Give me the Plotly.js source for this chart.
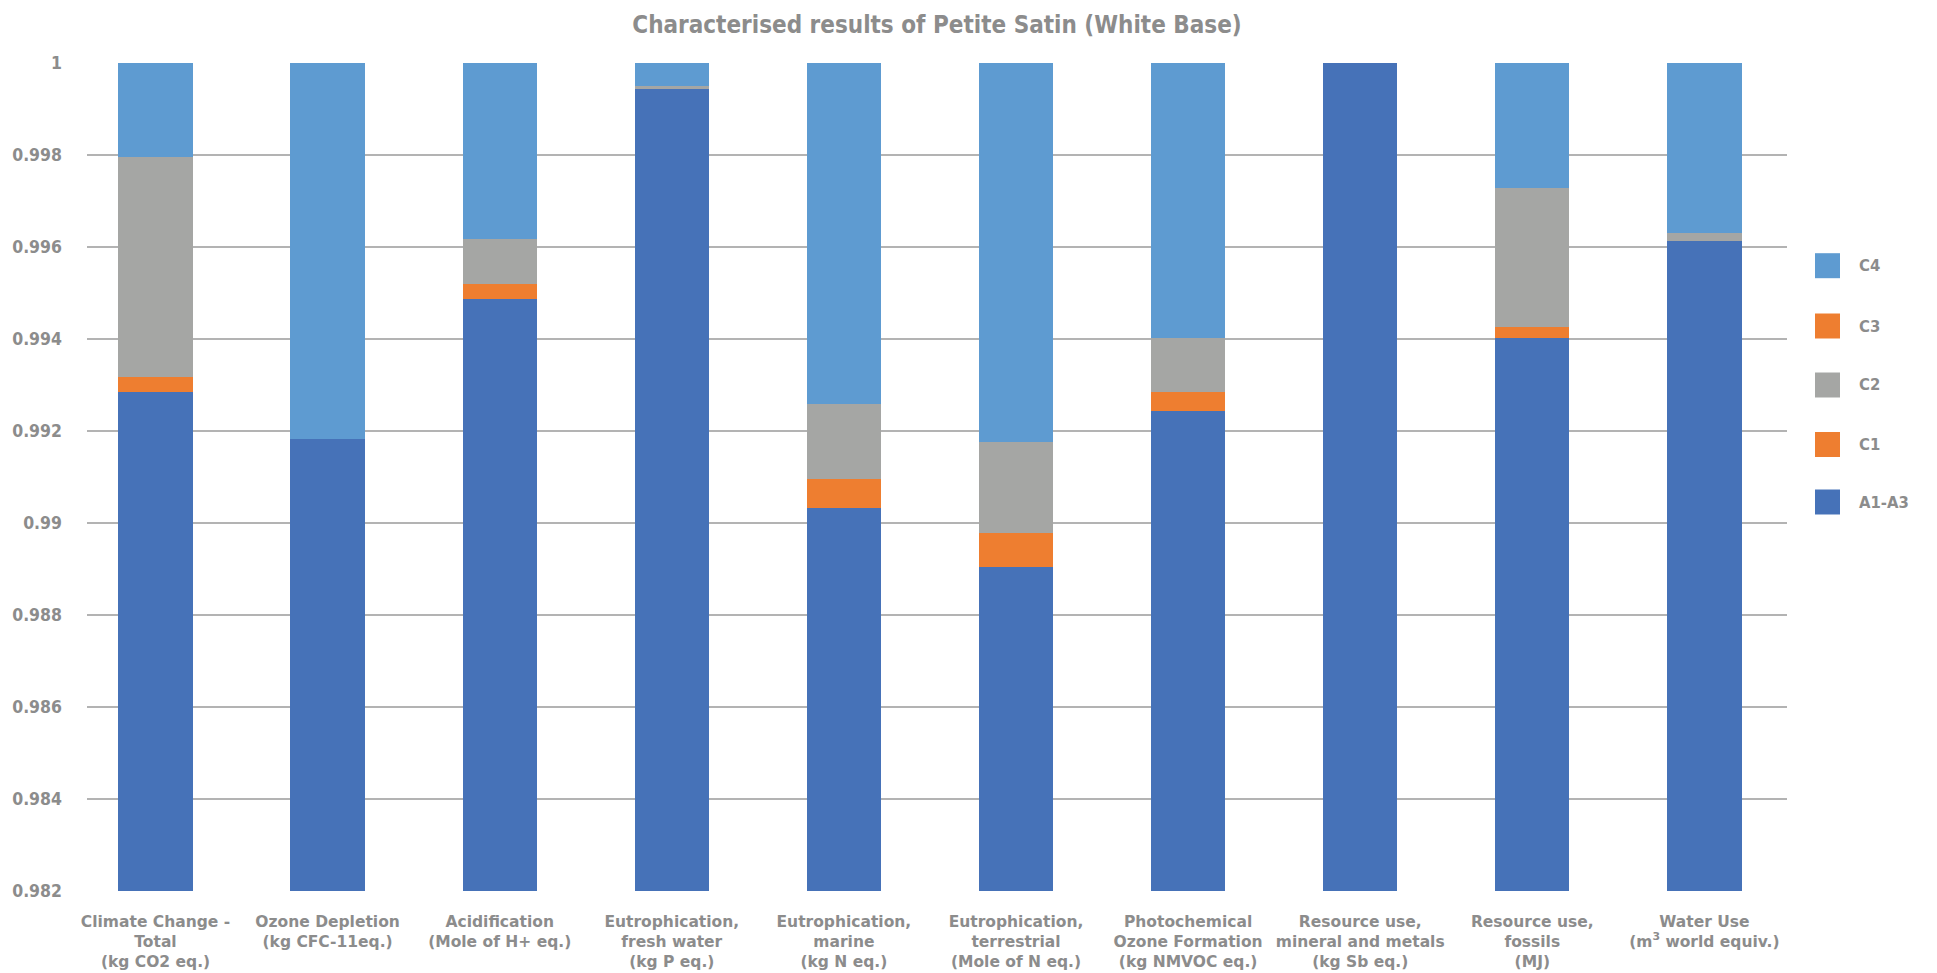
<!DOCTYPE html>
<html>
<head>
<meta charset="utf-8">
<script src="https://cdn.plot.ly/plotly-3.0.1.min.js"></script>
<style>html,body{margin:0;padding:0;background:#fff;}#chart{width:1937px;height:973px;}</style>
</head>
<body>
<div id="chart"></div>
<script>
// ---- data ----
const categories = [
  "Climate Change -<br>Total<br>(kg CO2 eq.)",
  "Ozone Depletion<br>(kg CFC-11eq.)",
  "Acidification<br>(Mole of H+ eq.)",
  "Eutrophication,<br>fresh water<br>(kg P eq.)",
  "Eutrophication,<br>marine<br>(kg N eq.)",
  "Eutrophication,<br>terrestrial<br>(Mole of N eq.)",
  "Photochemical<br>Ozone Formation<br>(kg NMVOC eq.)",
  "Resource use,<br>mineral and metals<br>(kg Sb eq.)",
  "Resource use,<br>fossils<br>(MJ)",
  "Water Use<br>(m<sup>3</sup> world equiv.)"
];
const seriesNames = ["A1-A3", "C1", "C2", "C3", "C4"];
const a1a3 = [0.99285, 0.99182, 0.99486, 0.99943, 0.99032, 0.98904, 0.99244, 1.00000, 0.99403, 0.99614];
const c1   = [0.00033, 0.00000, 0.00033, 0.00000, 0.00063, 0.00075, 0.00041, 0.00000, 0.00024, 0.00000];
const c2   = [0.00477, 0.00000, 0.00098, 0.00007, 0.00163, 0.00197, 0.00118, 0.00000, 0.00302, 0.00016];
const c3   = [0.00000, 0.00000, 0.00000, 0.00000, 0.00000, 0.00000, 0.00000, 0.00000, 0.00000, 0.00000];
const c4   = [0.00205, 0.00818, 0.00383, 0.00050, 0.00742, 0.00824, 0.00597, 0.00000, 0.00271, 0.00370];
const seriesValues = [a1a3, c1, c2, c3, c4];
const seriesColors = ["#4672B8", "#EE7E30", "#A5A6A4", "#EE7E30", "#5E9BD1"];

// ---- style ----
const FONT = "'DejaVu Sans Condensed', 'Liberation Sans Narrow', sans-serif";
const FONT_WIDE = "'DejaVu Sans', sans-serif";
const GREY = "#8c8c8c";
const W = 1937, H = 973;
const M = {l: 87, r: 150, t: 63, b: 82};

const xIdx = categories.map((_, i) => i);
const traces = seriesNames.map((name, k) => ({
  type: "bar",
  name: name,
  x: xIdx,
  y: seriesValues[k],
  marker: {color: seriesColors[k], line: {width: 0}},
  showlegend: false,
  hoverinfo: "skip"
}));

// custom legend (top to bottom: reversed series order)
const plotW = W - M.l - M.r, plotH = H - M.t - M.b;
const legendRows = [265.7, 326, 385, 444.5, 502];
const shapes = [], annotations = [];
const legendOrder = seriesNames.map((_, i) => seriesNames.length - 1 - i);
legendOrder.forEach((k, r) => {
  const cy = legendRows[r];
  const x0 = 1815, sz = 25;
  shapes.push({
    type: "rect", xref: "paper", yref: "paper", layer: "above",
    x0: (x0 - M.l) / plotW, x1: (x0 + sz - M.l) / plotW,
    y0: (H - M.b - (cy + sz / 2)) / plotH, y1: (H - M.b - (cy - sz / 2)) / plotH,
    fillcolor: seriesColors[k], line: {width: 0}
  });
  annotations.push({
    xref: "paper", yref: "paper", showarrow: false,
    x: (1857 - M.l) / plotW, y: (H - M.b - cy) / plotH,
    xanchor: "left", yanchor: "middle",
    text: seriesNames[k],
    font: {family: FONT, size: 16.5, color: GREY, weight: "bold"}
  });
});

const layout = {
  width: W, height: H,
  margin: M,
  paper_bgcolor: "#ffffff",
  plot_bgcolor: "#ffffff",
  barmode: "stack",
  bargap: 0.568,
  showlegend: false,
  title: {
    text: "Characterised results of Petite Satin (White Base)",
    font: {family: FONT, size: 24, color: GREY, weight: "bold"},
    x: 937 / W, xanchor: "center", xref: "container",
    y: 1 - 25 / H, yanchor: "middle", yref: "container"
  },
  xaxis: {
    tickmode: "array",
    tickvals: xIdx,
    ticktext: categories,
    range: [-0.398, 9.48],
    showgrid: false,
    zeroline: false,
    showline: false,
    ticks: "",
    tickangle: 0,
    ticklabelstandoff: 19,
    tickfont: {family: FONT_WIDE, size: 15.5, color: GREY, weight: "bold"}
  },
  yaxis: {
    range: [0.982, 1],
    tick0: 0.982,
    dtick: 0.002,
    showgrid: true,
    gridcolor: "#b3b3b3",
    gridwidth: 1.5,
    zeroline: false,
    showline: false,
    ticks: "",
    ticklabelstandoff: 24,
    tickfont: {family: FONT, size: 17.5, color: GREY, weight: "bold"}
  },
  shapes: shapes,
  annotations: annotations
};

Plotly.newPlot("chart", traces, layout, {displayModeBar: false, staticPlot: true});
</script>
</body>
</html>
